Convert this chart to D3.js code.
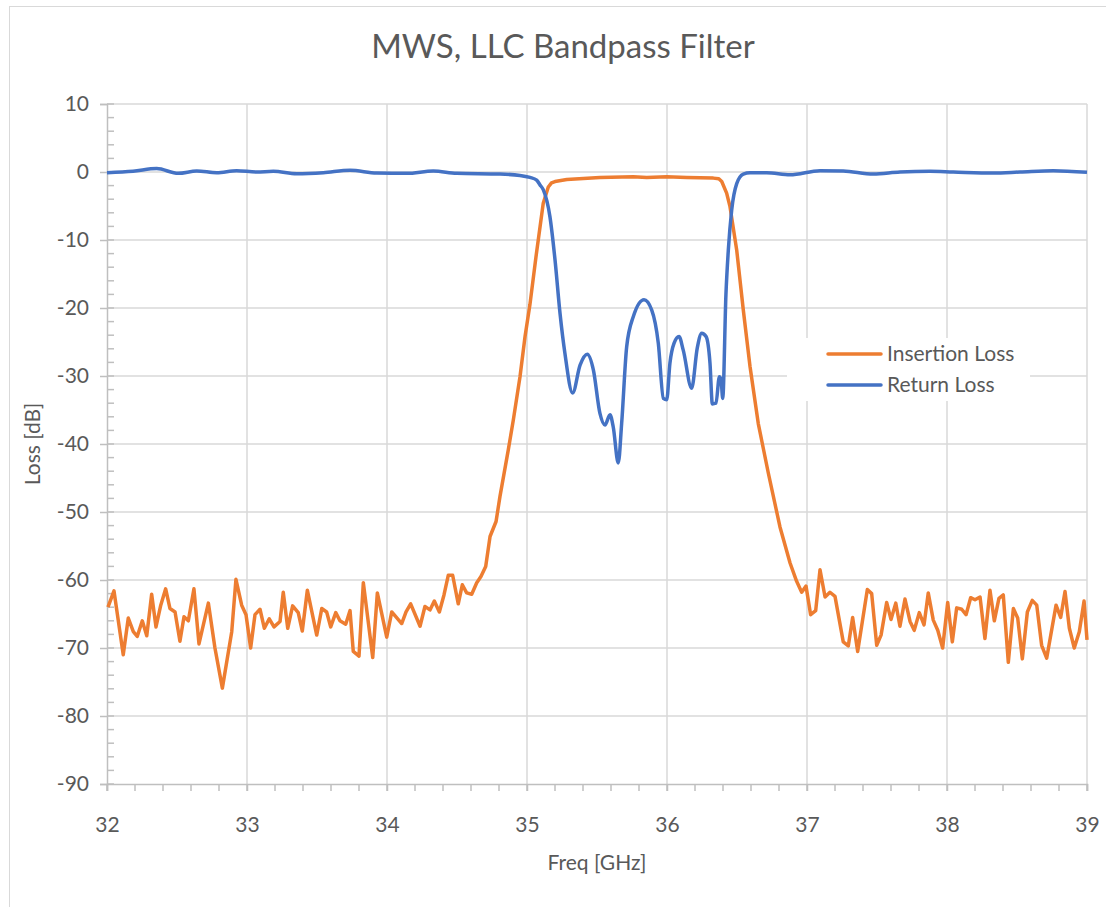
<!DOCTYPE html>
<html>
<head>
<meta charset="utf-8">
<script src="https://cdn.jsdelivr.net/npm/d3@7"></script>
<style>
  body { margin: 0; background: #fff; }
  text { font-family: Lato, "Noto Sans", sans-serif; fill: #595959; }
</style>
</head>
<body>
<svg width="1106" height="907"></svg>
<script>
// values
var xTicks = [32, 33, 34, 35, 36, 37, 38, 39];
var yTicks = [10, 0, -10, -20, -30, -40, -50, -60, -70, -80, -90];

// Insertion Loss (S21)
var ilFreq = [32.007, 32.050, 32.116, 32.152, 32.188, 32.216, 32.252, 32.284, 32.319, 32.350,
  32.384, 32.419, 32.450, 32.486, 32.521, 32.550, 32.581, 32.621, 32.657, 32.724,
  32.771, 32.824, 32.891, 32.921, 32.962, 32.993, 33.026, 33.057, 33.093, 33.124,
  33.159, 33.193, 33.236, 33.259, 33.291, 33.326, 33.366, 33.395, 33.431, 33.498,
  33.534, 33.569, 33.598, 33.634, 33.664, 33.705, 33.736, 33.759, 33.800, 33.831,
  33.898, 33.931, 33.998, 34.034, 34.105, 34.136, 34.169, 34.236, 34.271, 34.307,
  34.338, 34.374, 34.407, 34.438, 34.469, 34.509, 34.538, 34.569, 34.605, 34.641,
  34.671, 34.705, 34.736, 34.779, 34.807, 34.866, 34.902, 34.950, 34.986, 35.021,
  35.064, 35.116, 35.152, 35.175, 35.200, 35.284, 35.521, 35.759, 35.855, 35.998,
  36.141, 36.331, 36.370, 36.391, 36.426, 36.450, 36.498, 36.545, 36.593, 36.652,
  36.724, 36.807, 36.879, 36.926, 36.962, 36.993, 37.026, 37.062, 37.093, 37.129,
  37.164, 37.200, 37.259, 37.295, 37.326, 37.362, 37.431, 37.462, 37.498, 37.529,
  37.569, 37.600, 37.634, 37.664, 37.700, 37.736, 37.766, 37.802, 37.836, 37.866,
  37.902, 37.934, 37.969, 38.005, 38.038, 38.069, 38.105, 38.136, 38.169, 38.200,
  38.236, 38.271, 38.307, 38.338, 38.371, 38.402, 38.438, 38.474, 38.505, 38.538,
  38.574, 38.609, 38.641, 38.676, 38.712, 38.779, 38.812, 38.843, 38.874, 38.909,
  38.945, 38.979, 39.000];
var ilDb = [-64.0, -61.6, -71.0, -65.6, -67.6, -68.3, -66.0, -68.2, -62.1, -66.9,
  -63.7, -61.3, -64.2, -64.7, -69.0, -65.4, -66.0, -61.3, -69.4, -63.4,
  -70.0, -75.9, -67.6, -59.9, -63.7, -65.1, -70.0, -65.1, -64.3, -67.1,
  -65.7, -66.9, -66.1, -61.8, -67.1, -63.8, -64.8, -67.5, -61.5, -68.1,
  -64.2, -64.7, -66.9, -64.8, -66.0, -66.5, -64.5, -70.5, -71.2, -60.4,
  -71.4, -61.9, -68.4, -64.7, -66.4, -64.7, -63.5, -66.8, -63.9, -64.4,
  -63.1, -64.7, -62.2, -59.3, -59.3, -63.5, -60.7, -61.9, -62.1, -60.4,
  -59.5, -58.0, -53.6, -51.4, -47.7, -40.9, -36.5, -30.1, -24.2, -19.5,
  -12.5, -4.6, -2.2, -1.6, -1.4, -1.1, -0.8, -0.7, -0.8, -0.7,
  -0.8, -0.9, -1.0, -1.4, -3.1, -5.1, -11.5, -20.3, -28.6, -37.0,
  -44.3, -52.2, -57.5, -60.2, -61.8, -60.9, -65.1, -64.5, -58.5, -62.5,
  -61.8, -62.4, -69.1, -69.7, -65.5, -70.5, -61.4, -62.0, -69.6, -68.1,
  -63.3, -65.8, -63.4, -66.8, -62.8, -66.1, -67.4, -64.8, -66.6, -61.9,
  -65.9, -67.4, -70.0, -63.3, -69.1, -64.1, -64.3, -65.1, -62.6, -62.9,
  -62.5, -68.6, -61.5, -66.0, -62.7, -62.2, -72.1, -64.2, -65.6, -71.6,
  -64.7, -63.0, -63.7, -69.6, -71.5, -63.7, -65.5, -61.7, -67.1, -70.0,
  -67.6, -63.1, -68.8];

// Return Loss (S11)
var rlFreq = [32.000, 32.186, 32.355, 32.509, 32.641, 32.784, 32.926, 33.069, 33.188, 33.355,
  33.545, 33.736, 33.926, 34.141, 34.331, 34.498, 34.807, 34.950, 35.021, 35.069,
  35.093, 35.116, 35.164, 35.200, 35.236, 35.271, 35.326, 35.379, 35.431, 35.474,
  35.521, 35.557, 35.593, 35.616, 35.652, 35.676, 35.712, 35.759, 35.836, 35.891,
  35.938, 35.974, 35.998, 36.021, 36.050, 36.086, 36.116, 36.176, 36.216, 36.248,
  36.279, 36.307, 36.324, 36.350, 36.374, 36.386, 36.398, 36.421, 36.438, 36.462,
  36.498, 36.545, 36.593, 36.712, 36.879, 37.093, 37.259, 37.474, 37.664, 37.879,
  38.045, 38.331, 38.521, 38.759, 39.000];
var rlDb = [-0.1, 0.1, 0.5, -0.2, 0.15, -0.1, 0.2, 0.0, 0.1, -0.25,
  -0.1, 0.25, -0.15, -0.2, 0.15, -0.2, -0.3, -0.5, -0.8, -1.2,
  -1.9, -2.6, -6.6, -12.9, -20.8, -26.7, -32.5, -28.4, -26.8, -29.1,
  -35.5, -37.2, -35.7, -37.5, -42.8, -37.0, -25.7, -21.3, -18.8, -20.3,
  -25.2, -33.3, -33.5, -28.1, -25.2, -24.2, -26.2, -31.8, -25.9, -23.7,
  -24.2, -28.1, -34.1, -34.0, -30.1, -30.5, -33.3, -18.0, -11.5, -5.6,
  -1.7, -0.3, -0.1, -0.1, -0.4, 0.2, 0.15, -0.3, 0.0, 0.1,
  0.0, -0.15, 0.0, 0.2, -0.05];

var seriesNames = ["Insertion Loss", "Return Loss"];
var seriesColors = ["#ED7D31", "#4472C4"];

var svg = d3.select("svg"),
    margin = {top: 104, right: 19, bottom: 123, left: 107},
    width = +svg.attr("width") - margin.left - margin.right,
    height = +svg.attr("height") - margin.top - margin.bottom;

// chart frame
svg.append("rect")
    .attr("x", 9.5).attr("y", 6.5)
    .attr("width", 1110).attr("height", 920)
    .attr("fill", "#fff")
    .attr("stroke", "#d9d9d9");

var g = svg.append("g").attr("transform", "translate(" + margin.left + "," + margin.top + ")");

var x = d3.scaleLinear().domain([32, 39]).range([0, width]);
var y = d3.scaleLinear().domain([-90, 10]).range([height, 0]);

// plain hyphen like the original, not the unicode minus
var fmt = function(d) { return String(d); };

// grid
g.append("g").selectAll("line").data(yTicks.slice(0, -1)).join("line")
    .attr("x1", 0).attr("x2", width)
    .attr("y1", d => y(d)).attr("y2", d => y(d))
    .attr("stroke", "#d9d9d9").attr("stroke-width", 1.5);
g.append("g").selectAll("line").data(xTicks.slice(1)).join("line")
    .attr("x1", d => x(d)).attr("x2", d => x(d))
    .attr("y1", 0).attr("y2", height)
    .attr("stroke", "#d9d9d9").attr("stroke-width", 1.5);

// minor ticks
g.append("g").selectAll("line").data(d3.range(-90, 10.01, 2)).join("line")
    .attr("x1", 0).attr("x2", 7)
    .attr("y1", d => y(d)).attr("y2", d => y(d))
    .attr("stroke", "#bfbfbf").attr("stroke-width", 1.5);
g.append("g").selectAll("line").data(d3.range(32, 39.01, 0.2)).join("line")
    .attr("x1", d => x(d)).attr("x2", d => x(d))
    .attr("y1", height).attr("y2", height + 7)
    .attr("stroke", "#bfbfbf").attr("stroke-width", 1.5);

// axes
var yAxis = g.append("g")
    .call(d3.axisLeft(y).tickValues(yTicks).tickSize(7).tickPadding(11).tickFormat(fmt));
yAxis.select(".domain").attr("stroke", "#bfbfbf").attr("stroke-width", 1.5);
yAxis.selectAll(".tick line").attr("stroke", "#bfbfbf").attr("stroke-width", 1.5);
yAxis.selectAll("text").attr("font-size", 21).attr("fill", "#595959")
    .style("font-family", "Lato, 'Noto Sans', sans-serif");

var xAxis = g.append("g").attr("transform", "translate(0," + height + ")")
    .call(d3.axisBottom(x).tickValues(xTicks).tickSize(7).tickPadding(26).tickFormat(fmt));
xAxis.select(".domain").attr("stroke", "#bfbfbf").attr("stroke-width", 1.5);
xAxis.selectAll(".tick line").attr("stroke", "#bfbfbf").attr("stroke-width", 1.5);
xAxis.selectAll("text").attr("font-size", 21).attr("fill", "#595959")
    .style("font-family", "Lato, 'Noto Sans', sans-serif");

// lines
var ilLine = d3.line()
    .x(function(d, i) { return x(ilFreq[i]); })
    .y(function(d) { return y(d); });
var rlLine = d3.line()
    .curve(d3.curveMonotoneX)
    .x(function(d, i) { return x(rlFreq[i]); })
    .y(function(d) { return y(d); });

g.append("path").datum(ilDb)
    .attr("d", ilLine)
    .attr("fill", "none")
    .attr("stroke", seriesColors[0])
    .attr("stroke-width", 3.5)
    .attr("stroke-linejoin", "round");
g.append("path").datum(rlDb)
    .attr("d", rlLine)
    .attr("fill", "none")
    .attr("stroke", seriesColors[1])
    .attr("stroke-width", 3.5)
    .attr("stroke-linejoin", "round");

// legend
var legend = svg.append("g").attr("transform", "translate(787,338)");
legend.append("rect").attr("width", 243).attr("height", 63).attr("fill", "#fff");
seriesNames.forEach(function(name, i) {
  var row = legend.append("g").attr("transform", "translate(0," + (16 + i * 31) + ")");
  row.append("line").attr("x1", 41).attr("x2", 94)
      .attr("stroke", seriesColors[i]).attr("stroke-width", 3.5).attr("stroke-linecap", "round");
  row.append("text").attr("x", 100).attr("dy", "0.35em")
      .attr("font-size", 21).text(name);
});

// titles
svg.append("text")
    .attr("x", 563).attr("y", 58)
    .attr("text-anchor", "middle")
    .attr("font-size", 33)
    .text("MWS, LLC Bandpass Filter");
svg.append("text")
    .attr("x", 597).attr("y", 870)
    .attr("text-anchor", "middle")
    .attr("font-size", 21)
    .text("Freq [GHz]");
svg.append("text")
    .attr("transform", "translate(40,444) rotate(-90)")
    .attr("text-anchor", "middle")
    .attr("font-size", 21)
    .text("Loss [dB]");
</script>
</body>
</html>
